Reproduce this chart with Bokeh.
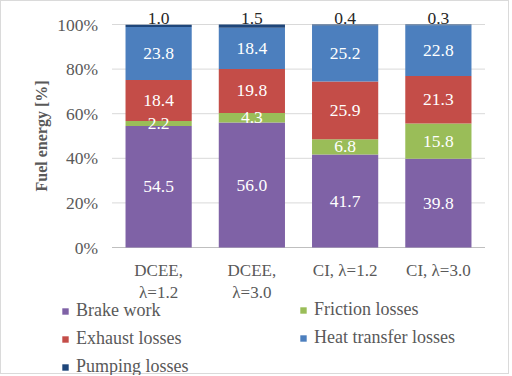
import math
from bokeh.plotting import figure
from bokeh.models import (ColumnDataSource, Range1d, LabelSet, Label, Legend, LegendItem)
from bokeh.embed import file_html
from bokeh.resources import INLINE

# Fuel energy breakdown per operating case, in percent
cases_line1 = ["DCEE,", "DCEE,", "CI, \u03bb=1.2", "CI, \u03bb=3.0"]
cases_line2 = ["\u03bb=1.2", "\u03bb=3.0", "", ""]
brake_work = [54.5, 56.0, 41.7, 39.8]
friction_losses = [2.2, 4.3, 6.8, 15.8]
exhaust_losses = [18.4, 19.8, 25.9, 21.3]
heat_transfer_losses = [23.8, 18.4, 25.2, 22.8]
pumping_losses = [1.0, 1.5, 0.4, 0.3]
y_ticks = [0, 20, 40, 60, 80, 100]
y_tick_labels = ["%d%%" % t for t in y_ticks]

series = [
    ("Brake work", brake_work, "#7F62A6", "white"),
    ("Friction losses", friction_losses, "#9ABD58", "white"),
    ("Exhaust losses", exhaust_losses, "#C44D48", "white"),
    ("Heat transfer losses", heat_transfer_losses, "#4C7FBE", "white"),
    ("Pumping losses", pumping_losses, "#1F467A", "#262626"),
]

FONT = "Liberation Serif"
GREY = "#595959"
N = len(brake_work)

# The plotting frame fills the whole canvas so that tick labels, category
# labels and the legend can all be drawn as (unclipped) annotations.
W, H = 509, 374
PX_PER_CAT = 93.25        # pixels per category slot
PX_PER_PCT = 2.23         # pixels per percent
LEFT_PX, ZERO_PX = 110.5, 246.0
x0 = -LEFT_PX / PX_PER_CAT
y1 = 100 + (ZERO_PX - 100 * PX_PER_PCT) / PX_PER_PCT
p = figure(width=W, height=H, output_backend="svg", toolbar_location=None,
           x_range=Range1d(x0, x0 + W / PX_PER_CAT),
           y_range=Range1d(y1 - H / PX_PER_PCT, y1),
           min_border=0)
p.styles = {"border": "1px solid #DADADA"}
p.outline_line_color = None
p.xaxis.visible = False
p.yaxis.visible = False
p.xgrid.visible = False
p.ygrid.visible = False

# horizontal gridlines across the category area
p.segment(x0=[0] * len(y_ticks), x1=[N] * len(y_ticks), y0=y_ticks, y1=y_ticks,
          line_color=["#BFBFBF"] + ["#D9D9D9"] * (len(y_ticks) - 1), line_width=1)

# y tick labels and axis title
tick_src = ColumnDataSource(dict(x=[0] * len(y_ticks), y=y_ticks, t=y_tick_labels))
p.add_layout(LabelSet(x="x", y="y", text="t", source=tick_src, x_offset=-14,
                      text_align="right", text_baseline="middle",
                      text_font=FONT, text_font_size="17.5px", text_color=GREY))
p.add_layout(Label(x=0, y=50, x_offset=-71, text="Fuel energy [%]", angle=math.pi / 2,
                   text_align="center", text_baseline="middle", text_font=FONT,
                   text_font_style="bold", text_font_size="16px", text_color=GREY))

# stacked bars with value labels
xs = [i + 0.5 for i in range(N)]
bottom = [0.0] * N
renderers = {}
for name, vals, color, txt_color in series:
    top = [b + v for b, v in zip(bottom, vals)]
    src = ColumnDataSource(dict(x=xs, bottom=bottom, top=top,
                                mid=[(b + t) / 2 for b, t in zip(bottom, top)],
                                lab=["%.1f" % v for v in vals]))
    renderers[name] = p.vbar(x="x", width=0.71, bottom="bottom", top="top", source=src,
                             fill_color=color, line_color=None)
    if name == "Pumping losses":
        labels = LabelSet(x="x", y="top", text="lab", source=src, y_offset=6)
    else:
        labels = LabelSet(x="x", y="mid", text="lab", source=src)
    labels.text_align = "center"
    labels.text_baseline = "middle"
    labels.text_font = FONT
    labels.text_font_size = "17.5px"
    labels.text_color = txt_color
    p.add_layout(labels)
    bottom = top

# two-line category labels under the bars
cat_src = ColumnDataSource(dict(x=xs, y=[0] * N, l1=cases_line1, l2=cases_line2))
for col, off in (("l1", -23), ("l2", -45)):
    p.add_layout(LabelSet(x="x", y="y", text=col, source=cat_src, y_offset=off,
                          text_align="center", text_baseline="middle",
                          text_font=FONT, text_font_size="17px", text_color=GREY))

# legend in two columns below the chart
def make_legend(names, loc):
    return Legend(items=[LegendItem(label=n, renderers=[renderers[n]]) for n in names],
                  location=loc, orientation="vertical", border_line_color=None,
                  background_fill_alpha=0, label_text_font=FONT,
                  label_text_font_size="18px", label_text_color=GREY,
                  glyph_width=8, glyph_height=8, spacing=7, padding=0, margin=0,
                  label_standoff=7, label_height=20)

p.add_layout(make_legend(["Brake work", "Exhaust losses", "Pumping losses"], (60, -2)))
p.add_layout(make_legend(["Friction losses", "Heat transfer losses"], (298, 27)))

open("out.html", "w").write(file_html(p, INLINE))
